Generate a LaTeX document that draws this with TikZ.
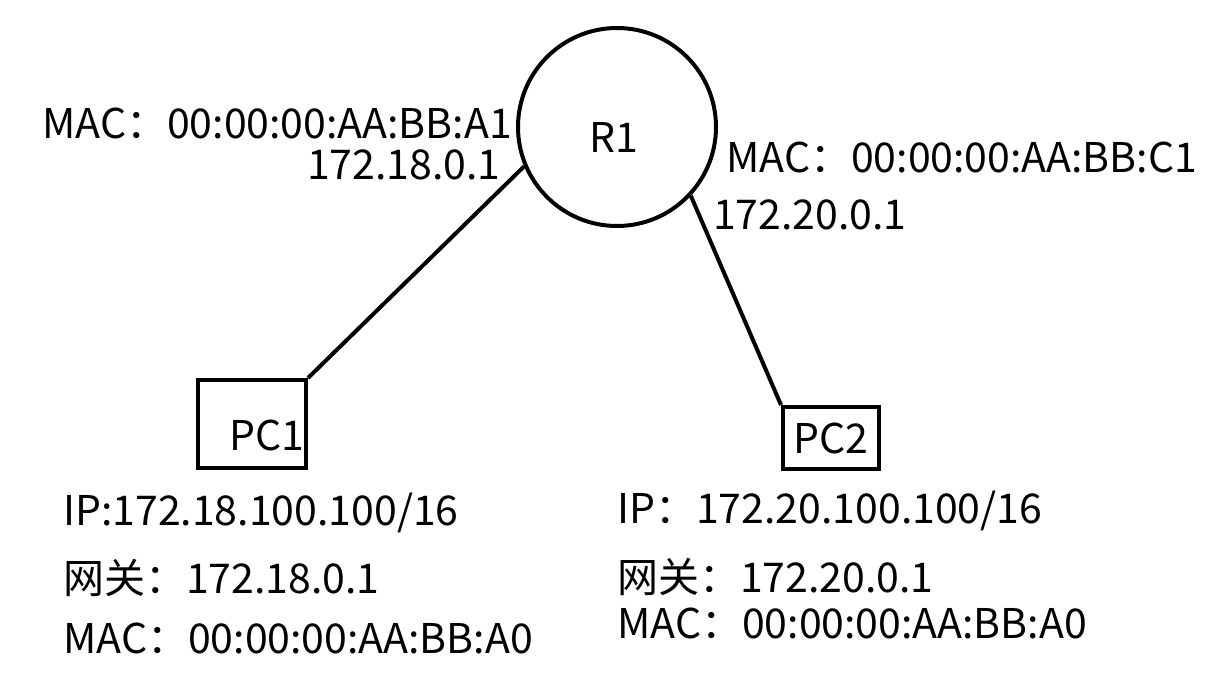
\documentclass[tikz,border=0pt]{standalone}
\usepackage{fontspec}
\setmainfont{Noto Sans CJK SC}
\begin{document}
\begin{tikzpicture}[x=1pt,y=-1pt,
  lbl/.style={anchor=base west,inner sep=0pt,font=\fontsize{41}{48}\selectfont},
  box/.style={draw,line width=4pt,rectangle,inner sep=0pt},
  link/.style={line width=4pt}]
\useasboundingbox (0,0) rectangle (1212,682);
\node[draw,line width=4pt,circle,inner sep=0pt,minimum size=198pt] (r1) at (617,127) {};
\node[lbl,anchor=base] (r1t) at (614,152) {R1};
\node[box,minimum width=108pt,minimum height=88pt] (pc1) at (252,424) {};
\node[lbl] (pc1t) at (229,450) {PC1};
\node[box,minimum width=96pt,minimum height=62pt,font=\fontsize{41}{48}\selectfont] (pc2) at (831,438) {PC2};
\draw[link] (pc1.north east) -- (r1.203);
\draw[link] (pc2.north west) -- (r1.317);
\node[lbl,text depth=0pt] (m1) at (42,139) {MAC：00:00:00:AA:BB:A1};
\node[lbl,text height=30pt] (i1) at (307,179) {172.18.0.1};
\node[lbl] (m2) at (726,172) {MAC：00:00:00:AA:BB:C1};
\node[lbl] (i2) at (713,229) {172.20.0.1};
\node[lbl] (a1) at (63,525) {IP:172.18.100.100/16};
\node[lbl] (a2) at (63,593) {网关：172.18.0.1};
\node[lbl] (a3) at (63,653) {MAC：00:00:00:AA:BB:A0};
\node[lbl] (b1) at (617,523) {IP：172.20.100.100/16};
\node[lbl] (b2) at (617,592) {网关：172.20.0.1};
\node[lbl] (b3) at (617,638) {MAC：00:00:00:AA:BB:A0};
\end{tikzpicture}
\end{document}
